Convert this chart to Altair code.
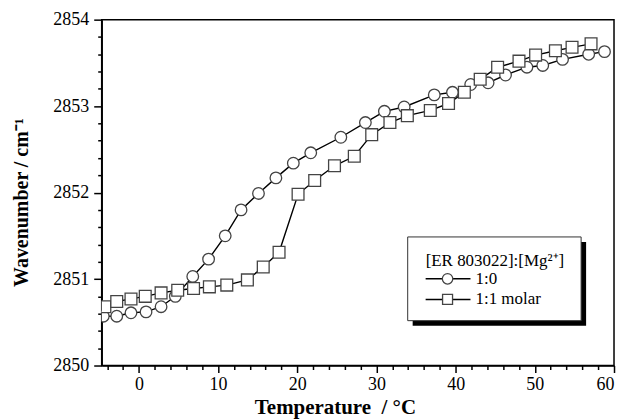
import altair as alt
import pandas as pd

# Series 1:0 (circles)
c_x = [-4.5, -2.8, -1.0, 0.9, 2.8, 4.6, 6.8, 8.8, 10.9, 12.9, 15.1, 17.3, 19.5, 21.7,
       25.5, 28.6, 31.0, 33.5, 37.3, 39.6, 41.9, 44.1, 46.3, 49.0, 51.0, 53.5, 56.8, 58.8]
c_y = [2850.57, 2850.57, 2850.61, 2850.62, 2850.68, 2850.80, 2851.03, 2851.23, 2851.50,
       2851.80, 2851.99, 2852.17, 2852.34, 2852.46, 2852.64, 2852.81, 2852.94, 2852.99,
       2853.13, 2853.16, 2853.25, 2853.27, 2853.36, 2853.45, 2853.47, 2853.54, 2853.60, 2853.63]

# Series 1:1 molar (squares)
s_x = [-4.3, -2.8, -1.0, 0.8, 2.8, 4.9, 6.9, 8.9, 11.1, 13.7, 15.7, 17.7, 20.1, 22.2,
       24.7, 27.2, 29.4, 31.7, 33.9, 36.8, 39.1, 41.1, 43.1, 45.3, 48.0, 50.1, 52.6, 54.7, 57.1]
s_y = [2850.68, 2850.74, 2850.77, 2850.80, 2850.84, 2850.87, 2850.89, 2850.91, 2850.93,
       2850.99, 2851.14, 2851.31, 2851.98, 2852.14, 2852.31, 2852.42, 2852.67, 2852.81,
       2852.89, 2852.95, 2853.03, 2853.16, 2853.31, 2853.45, 2853.52, 2853.59, 2853.64,
       2853.68, 2853.72]

x_ticks = list(range(-4, 61, 2))
y_ticks = [round(2850 + 0.2 * i, 1) for i in range(21)]

legend_title = "[ER 803022]:[Mg²⁺]"
legend_labels = ["1:0", "1:1 molar"]

FONT = "Liberation Serif"

df_c = pd.DataFrame({"T": c_x, "W": c_y})
df_s = pd.DataFrame({"T": s_x, "W": s_y})

xscale = alt.Scale(domain=[-4.7, 60], nice=False, zero=False)
yscale = alt.Scale(domain=[2850, 2854], nice=False, zero=False)

xaxis = alt.Axis(
    title="Temperature\u00a0\u00a0/ °C",
    values=x_ticks,
    labelExpr="datum.value % 10 === 0 ? datum.label : ''",
    tickSize={"condition": {"test": "datum.value % 10 === 0", "value": 7}, "value": 4},
    grid=False, labelFont=FONT, titleFont=FONT, labelFontSize=18, titleFontSize=21,
    titleFontWeight="bold", labelColor="black", titleColor="black",
    titleX=234, titleY=42, titleBaseline="middle", labelPadding=3,
)
yaxis = alt.Axis(
    title="Wavenumber / cm⁻¹",
    values=y_ticks,
    labelExpr="abs(datum.value - round(datum.value)) < 0.01 ? format(datum.value, 'd') : ''",
    tickSize={"condition": {"test": "abs(datum.value - round(datum.value)) < 0.01", "value": 8},
              "value": 4},
    grid=False, labelFont=FONT, titleFont=FONT, labelFontSize=18, titleFontSize=20,
    titleFontWeight="bold", labelColor="black", titleColor="black",
    titleX=-80, titleY=183, titleBaseline="middle", labelPadding=5,
)

enc_x = alt.X("T:Q", scale=xscale, axis=xaxis)
enc_y = alt.Y("W:Q", scale=yscale, axis=yaxis)

line_c = alt.Chart(df_c).mark_line(color="black", strokeWidth=1.4, clip=True).encode(x=enc_x, y=enc_y)
line_s = alt.Chart(df_s).mark_line(color="black", strokeWidth=1.4, clip=True).encode(x=enc_x, y=enc_y)
pts_c = alt.Chart(df_c).mark_point(shape="circle", size=135, filled=False, fill="white",
                                   fillOpacity=1, stroke="#444444", strokeWidth=1.3,
                                   opacity=1, clip=True).encode(x=enc_x, y=enc_y)
pts_s = alt.Chart(df_s).mark_point(shape="square", size=140, filled=False, fill="white",
                                   fillOpacity=1, stroke="#444444", strokeWidth=1.3,
                                   opacity=1, clip=True).encode(x=enc_x, y=enc_y)

one = pd.DataFrame({"k": [0]})
base = alt.Chart(one)

shadow = base.mark_rect(color="black").encode(
    x=alt.value(312), x2=alt.value(486), y=alt.value(223), y2=alt.value(307))
box = base.mark_rect(fill="white", stroke="#333333", strokeWidth=1).encode(
    x=alt.value(307), x2=alt.value(481), y=alt.value(218), y2=alt.value(302))
ltitle = base.mark_text(text=legend_title, font=FONT, fontSize=17, align="left",
                        baseline="alphabetic", color="black").encode(
    x=alt.value(325), y=alt.value(247))

rows = []
for i, (lab, shp) in enumerate(zip(legend_labels, ["circle", "square"])):
    yy = 260 + i * 20.7
    rows.append(base.mark_rule(color="black", strokeWidth=1.4).encode(
        x=alt.value(325), x2=alt.value(370), y=alt.value(yy)))
    rows.append(base.mark_point(shape=shp, size=110 if shp == "circle" else 100, filled=False,
                                fill="white", fillOpacity=1, stroke="#444444",
                                strokeWidth=1.3, opacity=1).encode(
        x=alt.value(347), y=alt.value(yy)))
    rows.append(base.mark_text(text=lab, font=FONT, fontSize=17, align="left",
                               baseline="middle", color="black").encode(
        x=alt.value(375), y=alt.value(yy)))

chart = alt.layer(line_c, line_s, pts_c, pts_s, shadow, box, ltitle, *rows).properties(
    width=514, height=347,
    autosize=alt.AutoSizeParams(type="none"),
    padding={"left": 94, "top": 11, "right": 4, "bottom": 62},
).configure_view(stroke="black", strokeWidth=1.5).configure_axis(
    labelFont=FONT, titleFont=FONT, labelColor="black", titleColor="black",
    domainColor="black", domainWidth=1.5, tickColor="black", tickWidth=1.5,
).configure_text(font=FONT)

chart.save("out.html", embed_options={"renderer": "svg", "actions": False})
